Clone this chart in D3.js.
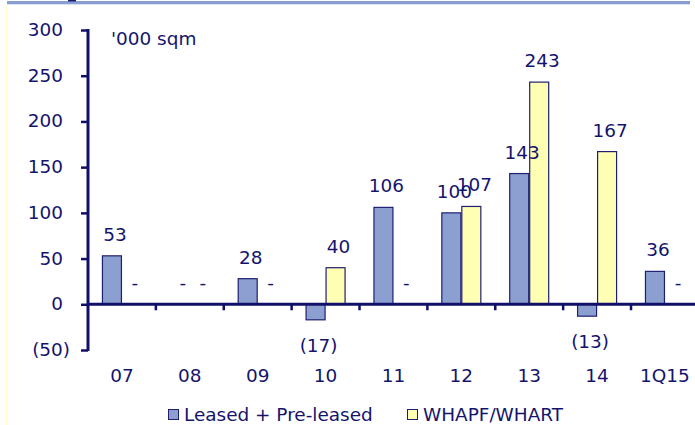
<!DOCTYPE html>
<html><head><meta charset="utf-8">
<script src="https://cdn.jsdelivr.net/npm/d3@7"></script>
<style>body{margin:0;background:#fff}svg{display:block}text{font-family:"DejaVu Sans",Verdana,sans-serif}</style>
</head><body>
<script>
const categories = ["07","08","09","10","11","12","13","14","1Q15"];
const leased = [53,0,28,-17,106,100,143,-13,36];
const whapf = [0,0,0,40,0,107,243,167,0];
const seriesNames = ["Leased + Pre-leased","WHAPF/WHART"];
const yTicks = [-50,0,50,100,150,200,250,300];
const unitLabel = "'000 sqm";

const W=695,H=425;
const navy="#10106a", textCol="#14146c";
const fills=["#8b9fd1","#ffffb3"];
const svg=d3.select("body").append("svg").attr("width",W).attr("height",H);
const SX=1.085;
function txt(x,y,s,anchor,size){
  return svg.append("text").attr("transform",`translate(${x},${y}) scale(${SX},1)`)
    .attr("text-anchor",anchor||"start").attr("font-size",size||17).attr("fill",textCol).text(s);
}

// frame decorations
svg.append("rect").attr("x",7).attr("y",1).attr("width",683).attr("height",3.3).attr("fill","#8a9fd1");
svg.append("rect").attr("x",68).attr("y",0).attr("width",8).attr("height",1.5).attr("fill","#1a1a6e");
svg.append("line").attr("x1",6.5).attr("x2",6.5).attr("y1",5).attr("y2",H).attr("stroke","#ffffc4").attr("stroke-width",1);

const y=d3.scaleLinear().domain([-50,300]).range([350,30]);
const x0=d3.scaleBand().domain(categories).range([88,698.9]).padding(0);
const step=x0.bandwidth();
const x1=d3.scaleBand().domain(seriesNames).range([(step-40)/2,(step+40)/2]).padding(0);

const data=categories.map((c,i)=>({cat:c,vals:[leased[i],whapf[i]]}));

// bars
const g=svg.append("g");
data.forEach(d=>{
  d.vals.forEach((v,si)=>{
    const bx=x0(d.cat)+x1(seriesNames[si]);
    const bw=x1.bandwidth();
    if(v!==0){
      g.append("rect").attr("x",bx+0.5).attr("y",Math.min(y(v),y(0))).attr("width",bw-1)
       .attr("height",Math.abs(y(v)-y(0))).attr("fill",fills[si]).attr("stroke","#1f1f70").attr("stroke-width",1.2);
    }
    const lx=bx+bw/2+3;
    let ly, s;
    if(v>0){ly=y(v)-15;s=String(v);}
    else if(v<0){ly=y(v)+32;s="("+Math.abs(v)+")";}
    else {ly=y(0)-15;s="-";}
    txt(lx,ly,s,"middle");
  });
});

// y axis
const yAxis=d3.axisLeft(y).tickValues(yTicks).tickSize(7).tickFormat(()=>"");
const ya=svg.append("g").attr("transform","translate(88,0)").call(yAxis);
ya.select(".domain").remove();
ya.selectAll(".tick line").attr("stroke",navy).attr("stroke-width",2.5);
svg.append("line").attr("x1",88).attr("x2",88).attr("y1",29).attr("y2",351).attr("stroke",navy).attr("stroke-width",3);
yTicks.forEach(t=>{
  txt(t<0?70:63, y(t)+6, t<0?"("+Math.abs(t)+")":String(t), "end");
});

// x axis
svg.append("line").attr("x1",88).attr("x2",W).attr("y1",y(0)).attr("y2",y(0)).attr("stroke",navy).attr("stroke-width",3);
categories.slice(1).forEach(c=>{
  svg.append("line").attr("x1",x0(c)).attr("x2",x0(c)).attr("y1",y(0)).attr("y2",y(0)+6).attr("stroke",navy).attr("stroke-width",2.5);
});
categories.forEach(c=>{
  txt(x0(c)+step/2, 382, c, "middle");
});

txt(111,45,unitLabel,"start");

// legend
const legX=[168,407];
seriesNames.forEach((s,i)=>{
  svg.append("rect").attr("x",legX[i]+0.5).attr("y",409.5).attr("width",10).attr("height",10)
    .attr("fill",fills[i]).attr("stroke","#1f1f70").attr("stroke-width",1);
  txt(legX[i]+16,421,s,"start",17);
});
</script>
</body></html>
